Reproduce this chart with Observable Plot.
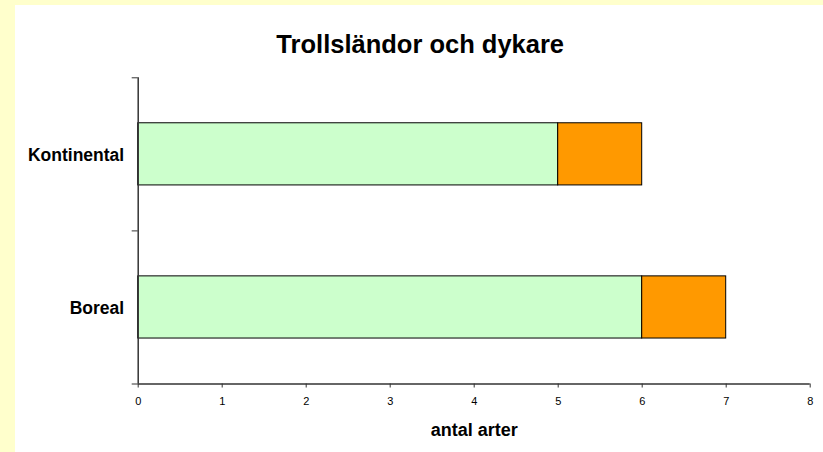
<!DOCTYPE html>
<html>
<head>
<meta charset="utf-8">
<script src="https://cdn.jsdelivr.net/npm/d3@7"></script>
<script src="https://cdn.jsdelivr.net/npm/@observablehq/plot@0.6"></script>
<style>
  html, body { margin: 0; padding: 0; background: #FFFFCC; width: 823px; height: 452px; overflow: hidden; }
  #chart { position: absolute; left: 15px; top: 5px; width: 808px; height: 447px; background: #ffffff; }
  #chart svg { display: block; }
</style>
</head>
<body>
<div id="chart"></div>
<script>
const categories = ["Kontinental", "Boreal"];
const seriesNames = ["grön", "orange"];
const seriesColors = ["#CCFFCC", "#FF9900"];
const greenValues = [5, 6];
const orangeValues = [1, 1];
const xTicks = [0, 1, 2, 3, 4, 5, 6, 7, 8];
const titleText = "Trollsländor och dykare";
const xLabel = "antal arter";

const n = categories.length;
const half = 0.203;
const pos = (i) => n - i - 0.5;
const rows = [];
categories.forEach((c, i) => {
  const vals = [greenValues[i], orangeValues[i]];
  let acc = 0;
  vals.forEach((v, s) => {
    rows.push({cat: c, series: seriesNames[s], color: seriesColors[s], x1: acc, x2: acc + v, y1: pos(i) - half, y2: pos(i) + half});
    acc += v;
  });
});
const labels = categories.map((c, i) => ({cat: c, y: pos(i)}));
const font = "'Liberation Sans', Arial, sans-serif";

const chart = Plot.plot({
  width: 808,
  height: 447,
  marginLeft: 122.7,
  marginRight: 13.3,
  marginTop: 72.3,
  marginBottom: 68.5,
  style: {background: "white", fontFamily: font, overflow: "visible", color: "#000"},
  x: {domain: [0, 8], axis: null},
  y: {domain: [0, n], axis: null},
  marks: [
    Plot.rect(rows, {x1: "x1", x2: "x2", y1: "y1", y2: "y2", fill: "color", stroke: "#000", strokeWidth: 1}),
    Plot.axisX({ticks: xTicks, tickSize: 4, text: null, label: null, stroke: "#333"}),
    Plot.text(xTicks, {x: (d) => d, frameAnchor: "bottom", dy: 13.2, lineAnchor: "top", fontSize: 11, fill: "#000", text: (d) => String(d)}),
    Plot.axisY({ticks: d3.range(n + 1), tickSize: 6, text: null, label: null, stroke: "#333"}),
    Plot.ruleX([0], {y1: 0, y2: n, stroke: "#333", strokeWidth: 1.5}),
    Plot.ruleY([0], {x1: 0, x2: 8, stroke: "#333", strokeWidth: 1.5}),
    Plot.text(labels, {x: () => 0, y: "y", text: "cat", textAnchor: "end", dx: -14, dy: 7, lineAnchor: "bottom", fontSize: 17.5, fontWeight: "bold", fill: "#000"}),
    Plot.text([titleText], {frameAnchor: "top", dx: -54, dy: -24.5, lineAnchor: "bottom", fontSize: 25.5, fontWeight: "bold", fill: "#000"}),
    Plot.text([xLabel], {frameAnchor: "bottom", dy: 51.5, lineAnchor: "bottom", fontSize: 18, fontWeight: "bold", fill: "#000"})
  ]
});
document.getElementById("chart").appendChild(chart);
</script>
</body>
</html>
